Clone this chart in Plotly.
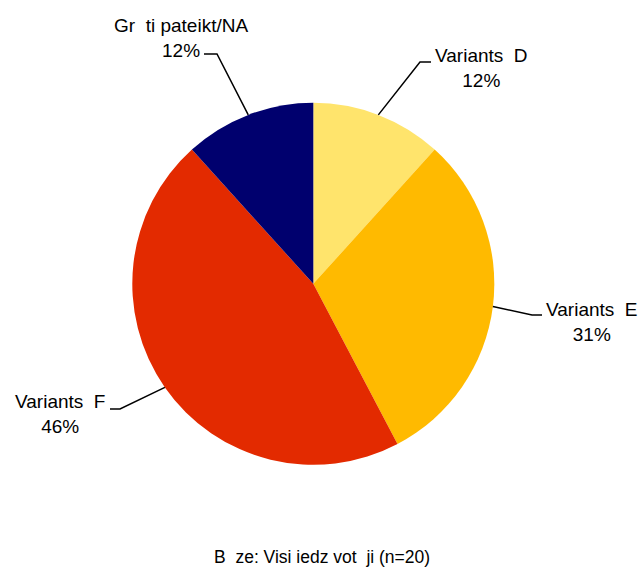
import math
import plotly.graph_objects as go

# data
labels = ["Variants\u00a0 D", "Variants\u00a0 E", "Variants\u00a0 F", "Gr\u00a0 ti pateikt/NA"]
values = [11.7, 30.6, 46.0, 11.7]
colors = ["#FFE46C", "#FFBA00", "#E32A00", "#00006E"]
footer = "B\u00a0 ze: Visi iedz\u00a0vot\u00a0 ji (n=20)"

W, H = 641, 567
cx, cy, r = 313.3, 283.8, 181

# label anchors (pixels): elbow of leader line, end of horizontal, text centre
label_pos = [
    dict(elbow=(420, 62), end=(431, 62), text=(481, 68)),
    dict(elbow=(532, 315), end=(542, 315), text=(592, 322)),
    dict(elbow=(120, 409), end=(110, 409), text=(60, 414)),
    dict(elbow=(217, 54), end=(204, 54), text=(181, 38)),
]


def px(x, y):
    return x / W, 1 - y / H


fig = go.Figure()
x0, y1 = px(cx - r, cy - r)
x1, y0 = px(cx + r, cy + r)
fig.add_trace(go.Pie(
    labels=labels, values=values, sort=False, direction="clockwise", rotation=0,
    textinfo="none", hoverinfo="label+percent", showlegend=False,
    marker=dict(colors=colors, line=dict(width=0)),
    domain=dict(x=[x0, x1], y=[y0, y1]),
))

total = sum(values)
cum = 0
shapes = []
annotations = []
for lab, v, pos in zip(labels, values, label_pos):
    mid = (cum + v / 2) / total * 2 * math.pi
    cum += v
    ex, ey = cx + r * math.sin(mid), cy - r * math.cos(mid)
    pts = [px(ex, ey), px(*pos["elbow"]), px(*pos["end"])]
    path = "M {} {} L {} {} L {} {}".format(*[c for p in pts for c in p])
    shapes.append(dict(type="path", xref="paper", yref="paper", path=path,
                       line=dict(color="black", width=1.5)))
    tx, ty = px(*pos["text"])
    annotations.append(dict(x=tx, y=ty, xref="paper", yref="paper",
                            text=f"{lab}<br>{v / total * 100:.0f}%", showarrow=False,
                            align="center", xanchor="center", yanchor="middle",
                            font=dict(size=19, color="black")))

fx, fy = px(322, 557)
annotations.append(dict(x=fx, y=fy, xref="paper", yref="paper", text=footer, showarrow=False,
                        xanchor="center", yanchor="middle", font=dict(size=17.5, color="black")))

fig.update_layout(
    width=W, height=H, margin=dict(l=0, r=0, t=0, b=0),
    paper_bgcolor="white", plot_bgcolor="white",
    font=dict(family="Liberation Sans, Arial, sans-serif"),
    shapes=shapes, annotations=annotations,
)
# drop the default page margin so the figure fills the window exactly
fig.write_html("out.html", config={"displayModeBar": False},
               post_script="document.body.style.margin='0';document.body.style.overflow='hidden';")
